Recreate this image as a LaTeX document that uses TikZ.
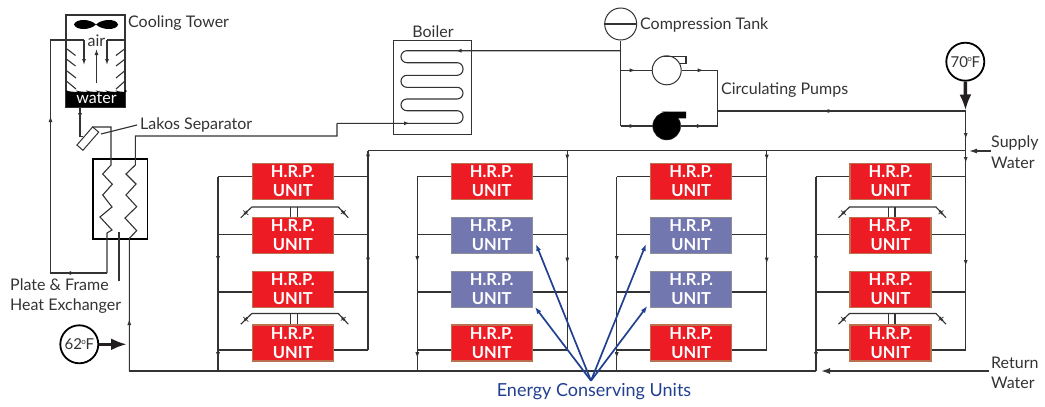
\documentclass[tikz,border=0pt]{standalone}
\usepackage{fontspec}
\setmainfont{Lato}
\usetikzlibrary{arrows.meta,decorations.markings,calc}
\definecolor{inkgray}{HTML}{333333}
\definecolor{inkblack}{HTML}{231F20}
\definecolor{unitred}{HTML}{ED1C24}
\definecolor{unitbrown}{HTML}{B9714F}
\definecolor{unitblue}{HTML}{7377AF}
\definecolor{unitgray}{HTML}{8C8F98}
\definecolor{noteblue}{HTML}{21408F}
\newcommand{\degmark}{\kern-.5pt\raisebox{5.5pt}{\fontsize{8}{9}\selectfont o}\kern-.5pt}
\tikzset{
	flow at/.style={postaction={decorate,decoration={markings,mark=at position #1 with {\arrow{Latex[length=6pt,width=4pt]}}}}},
	pipe/.style={draw=inkgray,line width=1.1pt},
	label/.style={text=inkgray,font=\fontsize{16}{18}\selectfont,inner sep=0pt},
	unitbox/.style={rectangle,minimum width=81pt,minimum height=36pt,line width=1.3pt,inner sep=0pt,text=white,
		font=\fontsize{16.5}{19}\selectfont\bfseries,align=center,execute at begin node={\rule{0pt}{17pt}}},
	redunit/.style={unitbox,fill=unitred,draw=unitbrown},
	blueunit/.style={unitbox,fill=unitblue,draw=unitgray},
	gauge/.style={circle,draw=black,line width=1.8pt,minimum size=38pt,inner sep=0pt,text=inkgray,font=\fontsize{15}{18}\selectfont},
	fatarrow/.style={-{Latex[length=16pt,width=12pt]},draw=inkblack,line width=3.6pt},
	notearrow/.style={-{Latex[length=7pt,width=5pt]},draw=noteblue,line width=1.7pt},
	valve/.style={draw=inkgray,line width=1.1pt},
}
\begin{document}
\begin{tikzpicture}[x=1pt,y=-1pt]
	\useasboundingbox (0,0) rectangle (1045,407);

	\begin{scope}[every node/.style={redunit}]
		\node (a1) at (292.8,181.5) {H.R.P.\\UNIT};
		\node (a2) at (292.8,235.3) {H.R.P.\\UNIT};
		\node (a3) at (292.8,289.2) {H.R.P.\\UNIT};
		\node (a4) at (292.8,343) {H.R.P.\\UNIT};
		\node (b1) at (491.7,181.5) {H.R.P.\\UNIT};
		\node [blueunit] (b2) at (491.7,235.3) {H.R.P.\\UNIT};
		\node [blueunit] (b3) at (491.7,289.2) {H.R.P.\\UNIT};
		\node (b4) at (491.7,343) {H.R.P.\\UNIT};
		\node (c1) at (691.2,181.5) {H.R.P.\\UNIT};
		\node [blueunit] (c2) at (691.2,235.3) {H.R.P.\\UNIT};
		\node [blueunit] (c3) at (691.2,289.2) {H.R.P.\\UNIT};
		\node (c4) at (691.2,343) {H.R.P.\\UNIT};
		\node (d1) at (890.5,181.5) {H.R.P.\\UNIT};
		\node (d2) at (890.5,235.3) {H.R.P.\\UNIT};
		\node (d3) at (890.5,289.2) {H.R.P.\\UNIT};
		\node (d4) at (890.5,343) {H.R.P.\\UNIT};
	\end{scope}

	\begin{scope}[every node/.style={label,anchor=west}]
		\node (towerlabel) at (128,23) {Cooling Tower};
		\node (lakoslabel) at (140,125) {Lakos Separator};
		\node (plate) at (10,285) {Plate \& Frame};
		\node (exch) at (10,306) {Heat Exchanger};
		\node [anchor=center] (boilerlabel) at (433,32) {Boiler};
		\node (tanklabel) at (640,25) {Compression Tank};
		\node (pumplabel) at (721,90) {Circulating Pumps};
		\node (supply) at (991,143) {Supply};
		\node (supply2) at (991,163) {Water};
		\node (return) at (991,363) {Return};
		\node (return2) at (991,383) {Water};
		\node [anchor=center,text=noteblue,font=\fontsize{18}{20}\selectfont] (note) at (594,392) {Energy Conserving Units};
	\end{scope}

	%% buses
	\coordinate (top) at (368,150.7);
	\coordinate (topr) at (965.7,150.7);
	\coordinate (low) at (129.3,371);
	\coordinate (lowr) at (816,371);
	\begin{scope}[every edge/.style={pipe}]
		\path (top) edge (topr);
		\path (low) edge (lowr);
		\path (218,176.7) edge [flow at=85.5pt,flow at=181.5pt] (218,371);
		\path (417.3,176.7) edge [flow at=85.5pt,flow at=181.5pt] (417.3,371);
		\path (616.7,176.7) edge [flow at=85.5pt,flow at=181.5pt] (616.7,371);
		\path (816,176.7) edge [flow at=85.5pt,flow at=181.5pt] (816,371);
		\path (368,150.7) edge [flow at=10pt,flow at=113pt] (368,350);
		\path (567.3,150.7) edge [flow at=10pt,flow at=113pt] (567.3,350);
		\path (766.7,150.7) edge [flow at=10pt,flow at=113pt] (766.7,350);
		\path (965.7,111) edge [flow at=28pt,flow at=52pt,flow at=155pt] (965.7,350);
	\end{scope}

	\begin{scope}[every edge/.style={pipe}]
		\path (a1.west |- 0,176.7) edge (218,176.7) (a1.east |- 0,176.7) edge (368,176.7);
		\path (a2.west |- 0,234.3) edge (218,234.3) (a2.east |- 0,234.3) edge (368,234.3);
		\path (a3.west |- 0,292) edge (218,292) (a3.east |- 0,292) edge (368,292);
		\path (a4.west |- 0,350) edge (218,350) (a4.east |- 0,350) edge (368,350);
		\path (b1.west |- 0,176.7) edge (417.3,176.7) (b1.east |- 0,176.7) edge (567.3,176.7);
		\path (b2.west |- 0,234.3) edge (417.3,234.3) (b2.east |- 0,234.3) edge (567.3,234.3);
		\path (b3.west |- 0,292) edge (417.3,292) (b3.east |- 0,292) edge (567.3,292);
		\path (b4.west |- 0,350) edge (417.3,350) (b4.east |- 0,350) edge (567.3,350);
		\path (c1.west |- 0,176.7) edge (616.7,176.7) (c1.east |- 0,176.7) edge (766.7,176.7);
		\path (c2.west |- 0,234.3) edge (616.7,234.3) (c2.east |- 0,234.3) edge (766.7,234.3);
		\path (c3.west |- 0,292) edge (616.7,292) (c3.east |- 0,292) edge (766.7,292);
		\path (c4.west |- 0,350) edge (616.7,350) (c4.east |- 0,350) edge (766.7,350);
		\path (d1.west |- 0,176.7) edge (816,176.7) (d1.east |- 0,176.7) edge (965.7,176.7);
		\path (d2.west |- 0,234.3) edge (816,234.3) (d2.east |- 0,234.3) edge (965.7,234.3);
		\path (d3.west |- 0,292) edge (816,292) (d3.east |- 0,292) edge (965.7,292);
		\path (d4.west |- 0,350) edge (816,350) (d4.east |- 0,350) edge (965.7,350);
	\end{scope}

	%% valves between units
	\tikzset{valvepair/.pic={
		\draw [valve] (-52,10.7) -- (-41,0) -- (45.5,0) -- (55.5,10.7);
		\draw [valve] (-2,0) -- (-2,10) (4.5,0) -- (4.5,10);
		\draw [valve,line width=2pt] (-48.5,7.2) -- (-45.5,4.2);
		\draw [valve,line width=2pt] (49,3.8) -- (52,7);
		\draw [valve,line width=.7pt] (-49.5,3.5) -- (-44.5,8) (48,7) -- (53,3.5);
	}}
	\pic at (292.8,207) {valvepair};
	\pic at (292.8,313.5) {valvepair};
	\pic at (890.5,207) {valvepair};
	\pic at (890.5,313.5) {valvepair};

	%% cooling tower
	\node [draw=inkgray,line width=1.5pt,minimum width=59pt,minimum height=92pt,inner sep=0pt] (tower) at (95.7,61) {};
	\fill [black] (66,107) -- (66,90) \foreach \i in {0,...,5} { .. controls ++(2.4,2.5) and ++(7.4,2.5) .. ++(9.83,0) } -- (125,107) -- cycle;
	\node [text=white,font=\fontsize{16}{18}\selectfont,inner sep=0pt] (waterlabel) at (96.5,98.5) {water};
	\node [label] (airlabel) at (96.5,41) {air};
	\fill [black] (96,24.5) .. controls (90,18.5) and (76,18.5) .. (74,24.5) .. controls (76,30.5) and (90,30.5) .. (96,24.5)
		.. controls (102,18.5) and (117,18.5) .. (118,24.5) .. controls (117,30.5) and (102,30.5) .. (96,24.5) -- cycle;
	\draw [pipe] (67,49) -- (75.5,55.5) (67,59.5) -- (75.5,66) (67,71) -- (76,78) (67,81.5) -- (76,89);
	\draw [pipe] (124.5,49) -- (116,55.5) (124.5,59.5) -- (116,66) (124.5,71) -- (116,78) (124.5,81.5) -- (116,89);
	\coordinate (airl) at (84,40);
	\coordinate (airr) at (107,40);
	\draw [pipe,-{Latex[length=6pt,width=4pt]}] (airl) -- (84,65);
	\draw [pipe,-{Latex[length=6pt,width=4pt]}] (airr) -- (107,65);
	\draw [pipe,-{Latex[length=6pt,width=4pt]}] (96.5,83) -- (96.5,49);
	\draw [pipe] (airr) -- (125,40);

	%% separator and heat exchanger
	\node [draw=inkgray,line width=1pt,fill=white,minimum width=24pt,minimum height=8pt,inner sep=0pt,rotate=49] (lakos) at (87.8,138.6) {};
	\node [draw=black,line width=1.7pt,minimum width=54.5pt,minimum height=80pt,inner sep=0pt] (hx) at (120.2,199.2) {};
	\coordinate (zigleft) at (111,165);
	\coordinate (zigright) at (135.3,165);
	\draw [pipe,flow at=42pt,flow at=213.5pt] (107,273) -- (50.5,273) -- (50.5,40) -- (airl);
	\draw [pipe] (107,273) -- (107,233) -- (112,230) -- (100,217) -- (112,207) -- (102.7,195) -- (112.3,184.3) -- (102.7,174) -- (zigleft) -- (111,127) -- (92.3,127);
	\draw [pipe,flow at=12pt] (80,107) -- (80,136.5) -- (83,136.5);
	\draw [pipe,flow at=52pt] (low) -- (129.3,238.3) -- (136.7,230.7) -- (125,218) -- (136.7,206.7) -- (126,195) -- (136,184) -- (126,174) -- (zigright) -- (135.3,136) -- (337,136) -- (337,123.3);
	\draw [pipe,line width=1.4pt] (119,232) -- (119,281);
	\draw [pipe] (lakoslabel.west) ++(-3,0) -- (101,134);

	%% boiler
	\node [draw=inkgray,line width=0.9pt,minimum width=78.5pt,minimum height=93.5pt,inner sep=0pt] (boiler) at (432.5,87.5) {};
	\draw [pipe,rounded corners=5.9pt,flow at=165pt] (620.7,50.7) -- (401,50.7) -- (401,62.7) -- (463,62.7) -- (463,75.3) -- (401,75.3) -- (401,87.3) -- (463,87.3) -- (463,99) -- (401,99) -- (401,110.7) -- (463,110.7) -- (463,123.3) -- (337,123.3);
	\draw [pipe,flow at=73pt] (337,123.3) -- (420,123.3);

	%% compression tank and pumps
	\node [draw=inkgray,line width=1pt,circle,minimum size=32pt,inner sep=0pt] (tank) at (620.7,24) {};
	\draw [pipe] (tank.west) -- (tank.east);
	\coordinate (split) at (620.7,126);
	\draw [pipe,line width=1.5pt] (tank.south) -- (620.7,86);
	\draw [pipe] (620.7,86) -- (split);
	\node [draw=inkgray,line width=1pt,circle,fill=white,minimum size=29pt,inner sep=0pt] (pumpa) at (666.7,70.3) {};
	\node [draw=inkgray,fill=black,circle,minimum size=28pt,inner sep=0pt] (pumpb) at (666.7,126) {};
	\draw [pipe] (662,56.7) -- (686,56.7) -- (686,63.3) -- (680,63.3);
	\fill [black] (662,111.7) -- (686,111.7) -- (686,118.3) -- (678,118.3) -- cycle;
	\draw [pipe,flow at=15pt] (620.7,70.3) -- (pumpa.west);
	\draw [pipe,flow at=15pt] (split) -- (pumpb.west);
	\draw [pipe,flow at=22pt] (pumpa.east) -- (717.7,70.3) -- (717.7,126);
	\draw [pipe,flow at=22pt] (pumpb.east) -- (717.7,126);
	\draw [pipe,flow at=116pt] (717.7,111) -- (965.7,111);

	%% gauges and big arrows
	\node [gauge] (gauge70) at (965.3,61.7) {70\degmark F};
	\node [gauge] (gauge62) at (79.3,344.3) {62\degmark F};
	\draw [fatarrow] (gauge70.south) -- (965.5,110.5);
	\draw [fatarrow] (gauge62.east) -- (127,344.3);
	\draw [pipe,-{Latex[length=8pt,width=5pt]},line width=1.2pt] (supply.west) ++(0,8) -- (969,151);
	\draw [pipe,-{Latex[length=9pt,width=6pt]},line width=1.5pt] (989,371) -- (821,371);

	%% energy conserving arrows
	\coordinate (apex) at (591,380.7);
	\draw [notearrow] (apex) -- (536,244);
	\draw [notearrow] (apex) -- (535,307);
	\draw [notearrow] (apex) -- (646,244);
	\draw [notearrow] (apex) -- (647.3,306);
\end{tikzpicture}
\end{document}
